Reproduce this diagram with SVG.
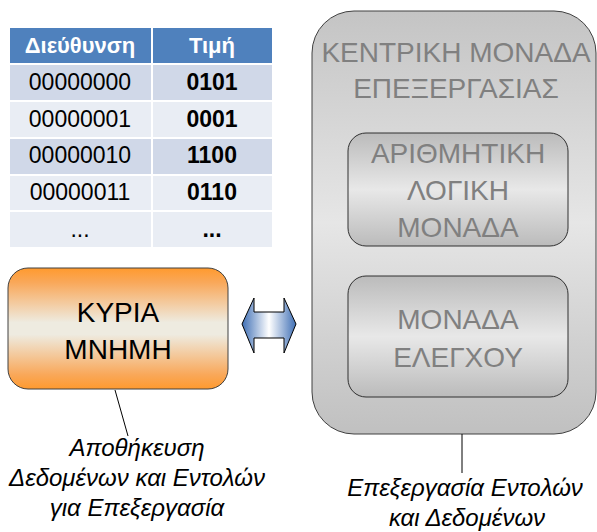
<svg xmlns="http://www.w3.org/2000/svg" width="597" height="532" viewBox="0 0 597 532">
  <style>
    text { font-family: "Liberation Sans", Arial, sans-serif; text-anchor: middle; }
    .hdr { fill: #ffffff; font-size: 22px; font-weight: bold; }
    .addr { fill: #000000; font-size: 23px; }
    .val { fill: #000000; font-size: 23px; font-weight: bold; }
    .cellA { fill: #D0D8E8; stroke: #ffffff; stroke-width: 2; }
    .cellB { fill: #E9EDF4; stroke: #ffffff; stroke-width: 2; }
    .cellH { fill: #4F81BD; stroke: #ffffff; stroke-width: 2; }
    .big { fill: #000000; font-size: 28px; }
    .unit { fill: #808080; font-size: 28px; }
    .cap { fill: #000000; font-size: 24px; font-style: italic; }
    .conn { stroke: #000000; stroke-width: 1; fill: none; }
  </style>
  <defs>
    <linearGradient id="orange" x1="0" y1="0" x2="0" y2="1">
      <stop offset="0" stop-color="#FF9A2E"/>
      <stop offset="0.12" stop-color="#F9A85A"/>
      <stop offset="0.45" stop-color="#EEEBE0"/>
      <stop offset="0.55" stop-color="#EEEBE0"/>
      <stop offset="0.88" stop-color="#F9A85A"/>
      <stop offset="1" stop-color="#FF9A2E"/>
    </linearGradient>
    <linearGradient id="grayOuter" x1="0" y1="0" x2="0" y2="1">
      <stop offset="0" stop-color="#C4C4C4"/>
      <stop offset="0.5" stop-color="#E6E6E6"/>
      <stop offset="1" stop-color="#C0C0C0"/>
    </linearGradient>
    <linearGradient id="grayInner" x1="0" y1="0" x2="0" y2="1">
      <stop offset="0" stop-color="#BBBBBB"/>
      <stop offset="0.5" stop-color="#E8E8E8"/>
      <stop offset="1" stop-color="#BBBBBB"/>
    </linearGradient>
    <linearGradient id="blueArrow" x1="0" y1="0" x2="1" y2="0">
      <stop offset="0" stop-color="#3F6FB5"/>
      <stop offset="0.5" stop-color="#FFFFFF"/>
      <stop offset="1" stop-color="#3F6FB5"/>
    </linearGradient>
  </defs>

  <!-- memory table -->
  <g id="memory-table">
    <rect class="cellH" x="9" y="27" width="143" height="37"/>
    <rect class="cellH" x="152" y="27" width="121" height="37"/>
    <rect class="cellA" x="9" y="64" width="143" height="37"/>
    <rect class="cellA" x="152" y="64" width="121" height="37"/>
    <rect class="cellB" x="9" y="101" width="143" height="37"/>
    <rect class="cellB" x="152" y="101" width="121" height="37"/>
    <rect class="cellA" x="9" y="138" width="143" height="37"/>
    <rect class="cellA" x="152" y="138" width="121" height="37"/>
    <rect class="cellB" x="9" y="175" width="143" height="36"/>
    <rect class="cellB" x="152" y="175" width="121" height="36"/>
    <rect class="cellB" x="9" y="211" width="143" height="37"/>
    <rect class="cellB" x="152" y="211" width="121" height="37"/>
    <text class="hdr" x="80" y="53">Διεύθυνση</text>
    <text class="hdr" x="212" y="53">Τιμή</text>
    <text class="addr" x="80" y="90">00000000</text>
    <text class="val" x="212" y="90">0101</text>
    <text class="addr" x="80" y="127">00000001</text>
    <text class="val" x="212" y="127">0001</text>
    <text class="addr" x="80" y="163">00000010</text>
    <text class="val" x="212" y="163">1100</text>
    <text class="addr" x="80" y="200">00000011</text>
    <text class="val" x="212" y="200">0110</text>
    <text class="addr" x="80" y="237">...</text>
    <text class="val" x="212" y="237">...</text>
  </g>

  <!-- main memory -->
  <g id="main-memory">
    <rect x="8" y="268" width="220" height="121" rx="20" ry="20" fill="url(#orange)" stroke="#404040" stroke-width="1"/>
    <text class="big" x="118" y="322">ΚΥΡΙΑ</text>
    <text class="big" x="118" y="359">ΜΝΗΜΗ</text>
  </g>

  <!-- central processing unit -->
  <g id="cpu">
    <rect x="312" y="11" width="284" height="423" rx="42" ry="42" fill="url(#grayOuter)" stroke="#404040" stroke-width="1"/>
    <text class="unit" x="456" y="62">ΚΕΝΤΡΙΚΗ ΜΟΝΑΔΑ</text>
    <text class="unit" x="456" y="98">ΕΠΕΞΕΡΓΑΣΙΑΣ</text>
  </g>

  <g id="alu">
    <rect x="348" y="133" width="220" height="113" rx="18" ry="18" fill="url(#grayInner)" stroke="#303030" stroke-width="1"/>
    <text class="unit" x="458" y="163">ΑΡΙΘΜΗΤΙΚΗ</text>
    <text class="unit" x="458" y="200">ΛΟΓΙΚΗ</text>
    <text class="unit" x="458" y="237">ΜΟΝΑΔΑ</text>
  </g>

  <g id="control-unit">
    <rect x="348" y="276" width="220" height="121" rx="18" ry="18" fill="url(#grayInner)" stroke="#303030" stroke-width="1"/>
    <text class="unit" x="458" y="329">ΜΟΝΑΔΑ</text>
    <text class="unit" x="458" y="367">ΕΛΕΓΧΟΥ</text>
  </g>

  <!-- captions -->
  <g id="memory-caption">
    <text class="cap" x="137" y="456">Αποθήκευση</text>
    <text class="cap" x="137" y="486">Δεδομένων και Εντολών</text>
    <text class="cap" x="137" y="516">για Επεξεργασία</text>
  </g>
  <g id="cpu-caption">
    <text class="cap" x="465" y="496">Επεξεργασία Εντολών</text>
    <text class="cap" x="467" y="526">και Δεδομένων</text>
  </g>

  <!-- connectors -->
  <g id="connectors">
    <line class="conn" x1="115" y1="390" x2="128" y2="436"/>
    <line class="conn" x1="462" y1="434" x2="462" y2="473"/>
    <polygon points="242,324 254,298 254,312 284,312 284,298 296,324 284,353 284,338 254,338 254,353" fill="url(#blueArrow)" stroke="#000000" stroke-width="1" stroke-linejoin="miter"/>
  </g>
</svg>
